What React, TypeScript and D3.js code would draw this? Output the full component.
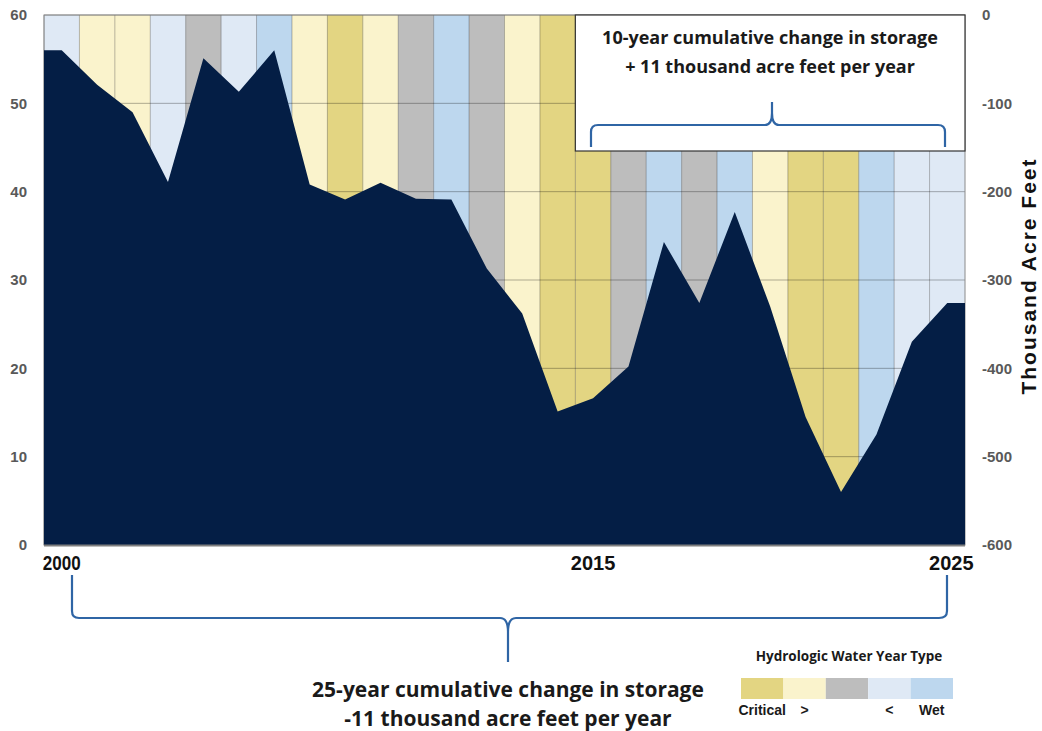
import React from 'react';
import * as d3 from 'd3';

// water years and cumulative change in storage (thousand acre feet)
const years = ['2000', '2001', '2002', '2003', '2004', '2005', '2006', '2007', '2008', '2009', '2010', '2011', '2012',
  '2013', '2014', '2015', '2016', '2017', '2018', '2019', '2020', '2021', '2022', '2023', '2024', '2025'];
const storage = [-40, -79, -110, -189, -49, -87, -40, -192, -209, -190, -208, -209, -287,
  -338, -449, -434, -398, -257, -326, -223, -330, -455, -540, -475, -370, -326];
// hydrologic water year type: C critical, D dry, BN below normal, AN above normal, W wet
const yearTypes = ['AN', 'D', 'D', 'AN', 'BN', 'AN', 'W', 'D', 'C', 'D', 'BN', 'W', 'BN',
  'D', 'C', 'C', 'BN', 'W', 'BN', 'W', 'D', 'C', 'C', 'W', 'AN', 'AN'];

const typeOrder = ['C', 'D', 'BN', 'AN', 'W'];
const typeColors = ['#e3d582', '#faf3cc', '#bdbdbd', '#dfe9f5', '#bdd7ee'];
const legendLabels = ['Critical', '>', '', '<', 'Wet'];

const leftTicks = [0, 10, 20, 30, 40, 50, 60];
const rightTicks = [0, -100, -200, -300, -400, -500, -600];
const xLabels = ['2000', '2015', '2025'];

const W = 1042, H = 731;
const margin = { top: 15, right: 77, bottom: 186, left: 44 };
const plotR = W - margin.right;
const plotB = H - margin.bottom;

export default function App() {
  const x = d3.scaleBand<string>().domain(years).range([margin.left, plotR]);
  const yR = d3.scaleLinear().domain([-600, 0]).range([plotB, margin.top]);
  const yL = d3.scaleLinear().domain([0, 60]).range([plotB, margin.top]);
  const color = d3.scaleOrdinal<string, string>().domain(typeOrder).range(typeColors);
  const bw = x.bandwidth();

  const pts = years.map((yr, i) => ({ x: (x(yr) as number) + bw / 2, v: storage[i] }));
  const areaPts = [{ x: margin.left, v: storage[0] }, ...pts, { x: plotR, v: storage[storage.length - 1] }];
  const area = d3.area<{ x: number; v: number }>()
    .x(d => d.x)
    .y0(plotB)
    .y1(d => yR(d.v));

  const legendX = d3.scaleBand<string>().domain(typeOrder).range([741, 953]);

  const labelFont = 'Liberation Sans, Arial, sans-serif';
  const noteFont = 'Open Sans, sans-serif';
  const braceColor = '#2f65a5';

  return (
    <svg width={W} height={H} style={{ position: 'absolute', left: 0, top: 0, background: '#fff' }}>
      {/* year type bands */}
      {years.map((yr, i) => (
        <rect key={yr} x={x(yr)} y={margin.top} width={bw} height={plotB - margin.top} fill={color(yearTypes[i])} />
      ))}
      {/* grid */}
      {rightTicks.map(t => (
        <line key={'h' + t} x1={margin.left} x2={plotR} y1={yR(t)} y2={yR(t)} stroke="#000" strokeOpacity={0.3} />
      ))}
      {years.map(yr => (
        <line key={'v' + yr} x1={x(yr)} x2={x(yr)} y1={margin.top} y2={plotB} stroke="#000" strokeOpacity={0.27} />
      ))}
      <rect x={margin.left} y={margin.top} width={plotR - margin.left} height={plotB - margin.top}
        fill="none" stroke="#8a8a8a" strokeWidth={1} />

      {/* storage area */}
      <path d={area(areaPts) as string} fill="#041e45" />
      <line x1={margin.left} x2={plotR} y1={plotB + 0.5} y2={plotB + 0.5} stroke="#7f7f7f" strokeWidth={2} />

      {/* left axis */}
      {leftTicks.map(t => (
        <text key={'l' + t} x={27} y={yL(t)} dy="0.35em" textAnchor="end" fontFamily={labelFont}
          fontWeight="bold" fontSize={15} fill="#595959">{t}</text>
      ))}
      {/* right axis */}
      {rightTicks.map(t => (
        <text key={'r' + t} x={982} y={yR(t)} dy="0.35em" textAnchor="start" fontFamily={labelFont}
          fontWeight="bold" fontSize={15} fill="#595959">{t}</text>
      ))}
      <text transform={`translate(1036,276) rotate(-90)`} textAnchor="middle" fontFamily={labelFont}
        fontWeight="bold" fontSize={21} letterSpacing={2} fill="#111">Thousand Acre Feet</text>

      {/* x labels */}
      {xLabels.map(l => (
        <text key={l} x={(x(l) as number) + bw / 2 + (l === '2025' ? 4 : 0)} y={570} textAnchor="middle"
          fontFamily={labelFont} fontWeight="bold" fontSize={20} fill="#111"
          {...(l === '2000' ? { textLength: 38, lengthAdjust: 'spacingAndGlyphs' } : {})}>{l}</text>
      ))}

      {/* 10-year annotation */}
      <rect x={x('2015')} y={margin.top} width={plotR - (x('2015') as number)} height={136}
        fill="#fff" stroke="#333" strokeWidth={1.2} />
      <text x={770} y={44} textAnchor="middle" fontFamily={noteFont} fontWeight="bold" fontSize={18} fill="#1a1a1a">
        10-year cumulative change in storage
      </text>
      <text x={770} y={73} textAnchor="middle" fontFamily={noteFont} fontWeight="bold" fontSize={18} fill="#1a1a1a">
        + 11 thousand acre feet per year
      </text>
      <path d="M591,147 L591,132 Q591,125 598,125 L765,125 Q772,125 772,113 L772,102 M772,113 Q772,125 779,125 L938,125 Q945,125 945,132 L945,147"
        fill="none" stroke={braceColor} strokeWidth={2.2} />

      {/* 25-year annotation */}
      <path d="M72,575 L72,611 Q72,618 79,618 L500,618 Q508,618 508,632 L508,662 M508,632 Q508,618 516,618 L939,618 Q947,618 947,611 L947,575"
        fill="none" stroke={braceColor} strokeWidth={2.2} />
      <text x={508} y={697} textAnchor="middle" fontFamily={noteFont} fontWeight="bold" fontSize={21} fill="#1a1a1a">
        25-year cumulative change in storage
      </text>
      <text x={508} y={726} textAnchor="middle" fontFamily={noteFont} fontWeight="bold" fontSize={21} fill="#1a1a1a">
        -11 thousand acre feet per year
      </text>

      {/* legend */}
      <text x={849} y={661} textAnchor="middle" fontFamily={noteFont} fontWeight="bold" fontSize={13.5} fill="#1a1a1a">
        Hydrologic Water Year Type
      </text>
      {typeOrder.map((t, i) => (
        <g key={t}>
          <rect x={legendX(t)} y={678} width={legendX.bandwidth()} height={21} fill={typeColors[i]} />
          <text x={(legendX(t) as number) + legendX.bandwidth() / 2} y={715} textAnchor="middle"
            fontFamily={labelFont} fontWeight="bold" fontSize={14} fill="#1a1a1a">{legendLabels[i]}</text>
        </g>
      ))}
    </svg>
  );
}
